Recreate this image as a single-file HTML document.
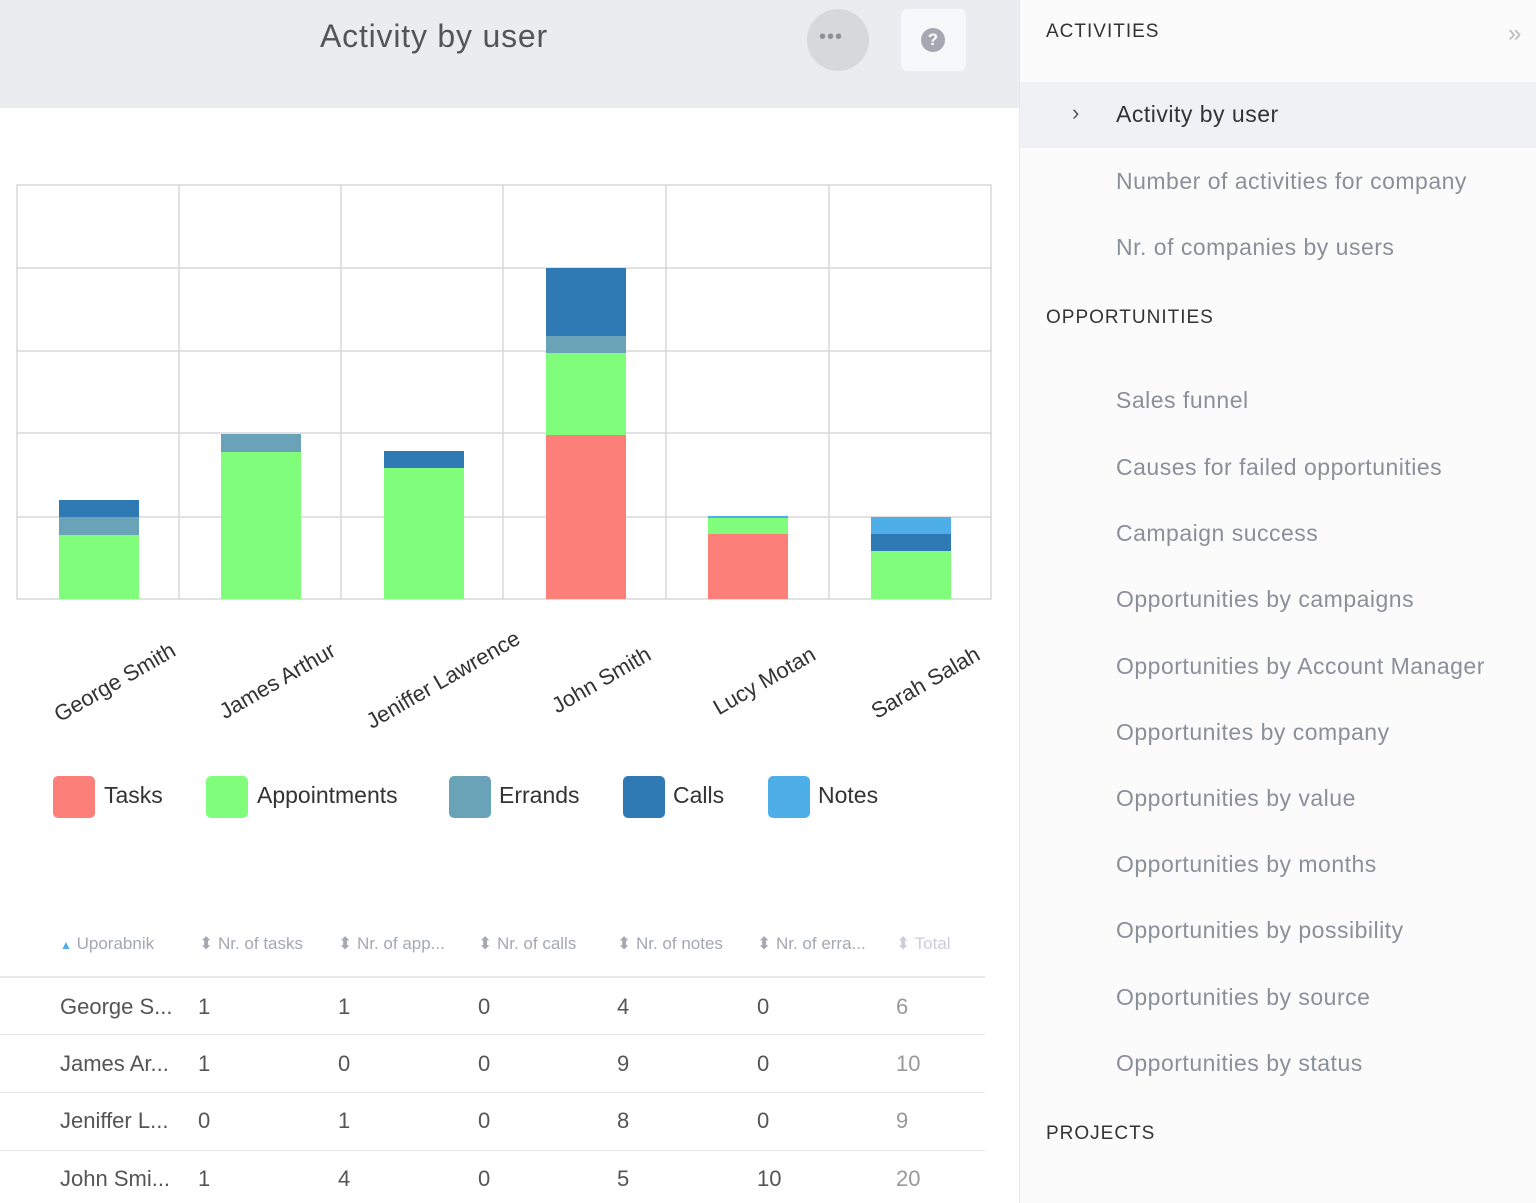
<!DOCTYPE html>
<html><head><style>
*{margin:0;padding:0;box-sizing:border-box}
body{width:1536px;height:1203px;overflow:hidden;background:#fff;font-family:"Liberation Sans",sans-serif;position:relative}
.a{position:absolute;white-space:nowrap}
.b{position:absolute}
.side{color:#8a8f98;font-size:23px;letter-spacing:0.5px}
.sec{color:#333;font-size:19px;letter-spacing:1px}
.th{color:#a4a8b0;font-size:17px}
.td{color:#555;font-size:22px}
.lbl{color:#333;font-size:22px;transform-origin:right bottom;transform:rotate(-30deg);line-height:25px}
</style></head><body>
<div class="b" style="left:0;top:0;width:1020px;height:108px;background:#ebecf0"></div>
<div class="a" style="left:320px;top:18px;font-size:32px;color:#555;letter-spacing:0.8px">Activity by user</div>
<div class="b" style="left:807px;top:9px;width:62px;height:62px;border-radius:50%;background:#d6d8dc"></div>
<div class="a" style="left:819px;top:26px;font-size:20px;color:#8a8f98;letter-spacing:1px">•••</div>
<div class="b" style="left:901px;top:9px;width:65px;height:62px;border-radius:6px;background:#f7f8fa"></div>
<div class="b" style="left:921px;top:28px;width:24px;height:24px;border-radius:50%;background:#a4a8b0;color:#fff;font-size:17px;text-align:center;line-height:24px;font-weight:bold">?</div>

<svg class="b" style="left:0;top:0" width="1020" height="620">
<g stroke="#d8d8dc" stroke-width="1.5" fill="none">
<rect x="17" y="185" width="974" height="414"/>
<line x1="17" y1="268" x2="991" y2="268"/><line x1="17" y1="351" x2="991" y2="351"/>
<line x1="17" y1="433" x2="991" y2="433"/><line x1="17" y1="517" x2="991" y2="517"/>
<line x1="179" y1="185" x2="179" y2="599"/><line x1="341" y1="185" x2="341" y2="599"/>
<line x1="503" y1="185" x2="503" y2="599"/><line x1="666" y1="185" x2="666" y2="599"/>
<line x1="829" y1="185" x2="829" y2="599"/>
</g>
<g>
<rect x="59" y="535" width="80" height="64" fill="#80fd7a"/><rect x="59" y="517" width="80" height="18" fill="#6aa3b8"/><rect x="59" y="500" width="80" height="17" fill="#2f7ab5"/>
<rect x="221" y="452" width="80" height="147" fill="#80fd7a"/><rect x="221" y="434" width="80" height="18" fill="#6aa3b8"/>
<rect x="384" y="468" width="80" height="131" fill="#80fd7a"/><rect x="384" y="451" width="80" height="17" fill="#2f7ab5"/>
<rect x="546" y="435" width="80" height="164" fill="#fd7f7a"/><rect x="546" y="353" width="80" height="82" fill="#80fd7a"/><rect x="546" y="336" width="80" height="17" fill="#6aa3b8"/><rect x="546" y="268" width="80" height="68" fill="#2f7ab5"/>
<rect x="708" y="534" width="80" height="65" fill="#fd7f7a"/><rect x="708" y="518" width="80" height="16" fill="#80fd7a"/><rect x="708" y="516" width="80" height="2" fill="#4daee8"/>
<rect x="871" y="551" width="80" height="48" fill="#80fd7a"/><rect x="871" y="534" width="80" height="17" fill="#2f7ab5"/><rect x="871" y="517" width="80" height="17" fill="#4daee8"/>
</g>
</svg>
<div class="a lbl" style="right:1356px;top:634px">George Smith</div>
<div class="a lbl" style="right:1196px;top:634px">James Arthur</div>
<div class="a lbl" style="right:1012px;top:622px">Jeniffer Lawrence</div>
<div class="a lbl" style="right:881px;top:638px">John Smith</div>
<div class="a lbl" style="right:716px;top:638px">Lucy Motan</div>
<div class="a lbl" style="right:552px;top:638px">Sarah Salah</div>

<div class="b" style="left:53px;top:776px;width:42px;height:42px;border-radius:5px;background:#fd7f7a"></div><div class="a" style="left:104px;top:782px;font-size:23px;color:#333">Tasks</div>
<div class="b" style="left:206px;top:776px;width:42px;height:42px;border-radius:5px;background:#80fd7a"></div><div class="a" style="left:257px;top:782px;font-size:23px;color:#333">Appointments</div>
<div class="b" style="left:449px;top:776px;width:42px;height:42px;border-radius:5px;background:#6aa3b8"></div><div class="a" style="left:499px;top:782px;font-size:23px;color:#333">Errands</div>
<div class="b" style="left:623px;top:776px;width:42px;height:42px;border-radius:5px;background:#2f7ab5"></div><div class="a" style="left:673px;top:782px;font-size:23px;color:#333">Calls</div>
<div class="b" style="left:768px;top:776px;width:42px;height:42px;border-radius:5px;background:#4daee8"></div><div class="a" style="left:818px;top:782px;font-size:23px;color:#333">Notes</div>

<div class="a th" style="left:60px;top:934px"><span style="color:#4daee8;font-size:12px">▲</span> Uporabnik</div>
<div class="a th" style="left:199px;top:934px">⬍ Nr. of tasks</div>
<div class="a th" style="left:338px;top:934px">⬍ Nr. of app...</div>
<div class="a th" style="left:478px;top:934px">⬍ Nr. of calls</div>
<div class="a th" style="left:617px;top:934px">⬍ Nr. of notes</div>
<div class="a th" style="left:757px;top:934px">⬍ Nr. of erra...</div>
<div class="a th" style="left:896px;top:934px;color:#ccd">⬍ Total</div>
<div class="b" style="left:0;top:976px;width:985px;height:2px;background:#e6e7eb"></div>
<div class="b" style="left:0;top:1034px;width:985px;height:1px;background:#e6e7eb"></div>
<div class="b" style="left:0;top:1092px;width:985px;height:1px;background:#e6e7eb"></div>
<div class="b" style="left:0;top:1150px;width:985px;height:1px;background:#e6e7eb"></div>
<div class="a td" style="left:60px;top:994px">George S...</div><div class="a td" style="left:198px;top:994px">1</div><div class="a td" style="left:338px;top:994px">1</div><div class="a td" style="left:478px;top:994px">0</div><div class="a td" style="left:617px;top:994px">4</div><div class="a td" style="left:757px;top:994px">0</div><div class="a td" style="left:896px;top:994px;color:#999">6</div>
<div class="a td" style="left:60px;top:1051px">James Ar...</div><div class="a td" style="left:198px;top:1051px">1</div><div class="a td" style="left:338px;top:1051px">0</div><div class="a td" style="left:478px;top:1051px">0</div><div class="a td" style="left:617px;top:1051px">9</div><div class="a td" style="left:757px;top:1051px">0</div><div class="a td" style="left:896px;top:1051px;color:#999">10</div>
<div class="a td" style="left:60px;top:1108px">Jeniffer L...</div><div class="a td" style="left:198px;top:1108px">0</div><div class="a td" style="left:338px;top:1108px">1</div><div class="a td" style="left:478px;top:1108px">0</div><div class="a td" style="left:617px;top:1108px">8</div><div class="a td" style="left:757px;top:1108px">0</div><div class="a td" style="left:896px;top:1108px;color:#999">9</div>
<div class="a td" style="left:60px;top:1166px">John Smi...</div><div class="a td" style="left:198px;top:1166px">1</div><div class="a td" style="left:338px;top:1166px">4</div><div class="a td" style="left:478px;top:1166px">0</div><div class="a td" style="left:617px;top:1166px">5</div><div class="a td" style="left:757px;top:1166px">10</div><div class="a td" style="left:896px;top:1166px;color:#999">20</div>

<div class="b" style="left:1019px;top:0;width:517px;height:1203px;background:#fbfbfc;border-left:1px solid #e6e7eb"></div>
<div class="b" style="left:1020px;top:82px;width:516px;height:66px;background:#f0f1f4"></div>
<div class="a sec" style="left:1046px;top:21px">ACTIVITIES</div>
<div class="a" style="left:1508px;top:20px;font-size:24px;color:#bbb">»</div>
<div class="a" style="left:1072px;top:100px;font-size:22px;color:#555">›</div>
<div class="a" style="left:1116px;top:101px;font-size:23px;color:#333;letter-spacing:0.5px">Activity by user</div>
<div class="a side" style="left:1116px;top:168px">Number of activities for company</div>
<div class="a side" style="left:1116px;top:234px">Nr. of companies by users</div>
<div class="a sec" style="left:1046px;top:307px">OPPORTUNITIES</div>
<div class="a side" style="left:1116px;top:387px">Sales funnel</div>
<div class="a side" style="left:1116px;top:454px">Causes for failed opportunities</div>
<div class="a side" style="left:1116px;top:520px">Campaign success</div>
<div class="a side" style="left:1116px;top:586px">Opportunities by campaigns</div>
<div class="a side" style="left:1116px;top:653px">Opportunities by Account Manager</div>
<div class="a side" style="left:1116px;top:719px">Opportunites by company</div>
<div class="a side" style="left:1116px;top:785px">Opportunities by value</div>
<div class="a side" style="left:1116px;top:851px">Opportunities by months</div>
<div class="a side" style="left:1116px;top:917px">Opportunities by possibility</div>
<div class="a side" style="left:1116px;top:984px">Opportunities by source</div>
<div class="a side" style="left:1116px;top:1050px">Opportunities by status</div>
<div class="a sec" style="left:1046px;top:1123px">PROJECTS</div>
</body></html>
